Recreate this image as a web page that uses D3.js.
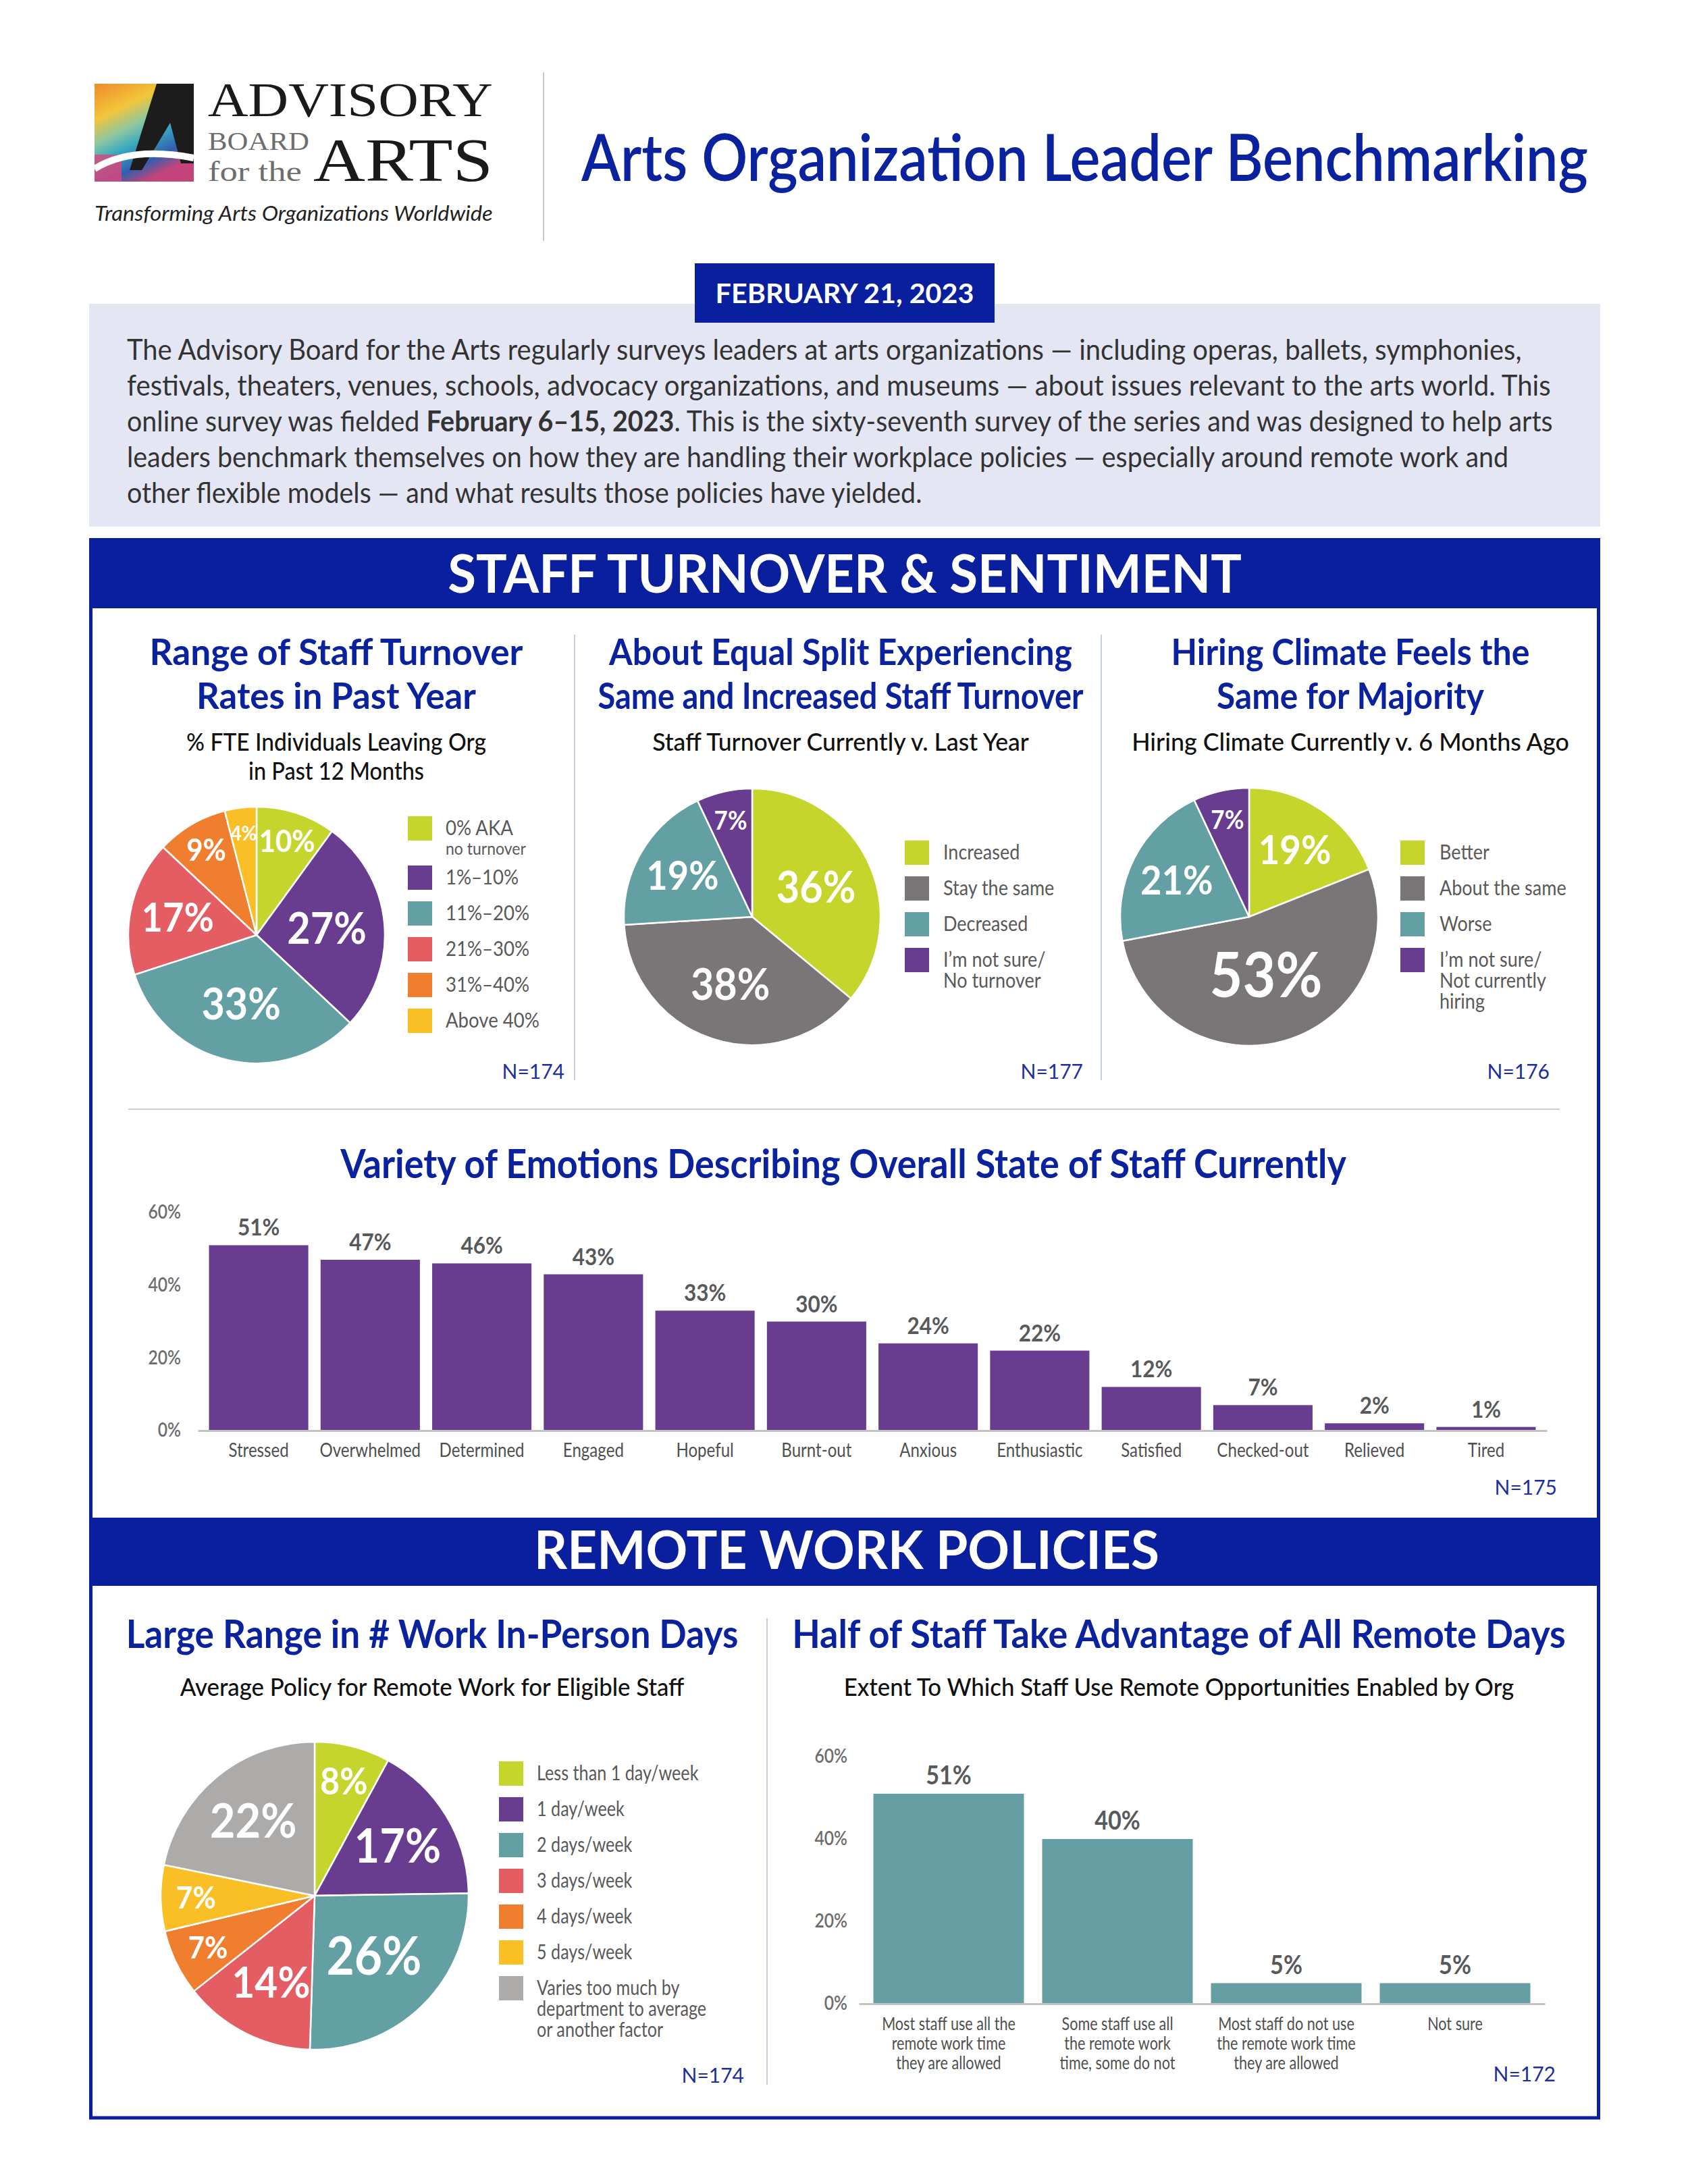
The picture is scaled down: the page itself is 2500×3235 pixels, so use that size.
<!DOCTYPE html>
<html>
<head>
<meta charset="utf-8">
<script src="https://cdn.jsdelivr.net/npm/d3@7"></script>
<style>
    body { margin: 0; background: #fff; }
    svg { display: block; font-family: Lato, "Open Sans", sans-serif; }
</style>
</head>
<body>
<svg id="chart" width="2500" height="3235"></svg>
<script>
// ---- data ----
const turnoverRanges = ["0% AKA\nno turnover", "1%–10%", "11%–20%", "21%–30%", "31%–40%", "Above 40%"];
const turnoverShares = [10, 27, 33, 17, 9, 4];

const turnoverTrend = ["Increased", "Stay the same", "Decreased", "I’m not sure/\nNo turnover"];
const turnoverTrendShares = [36, 38, 19, 7];

const hiringClimate = ["Better", "About the same", "Worse", "I’m not sure/\nNot currently\nhiring"];
const hiringClimateShares = [19, 53, 21, 7];

const emotions = ["Stressed", "Overwhelmed", "Determined", "Engaged", "Hopeful", "Burnt-out",
                  "Anxious", "Enthusiastic", "Satisfied", "Checked-out", "Relieved", "Tired"];
const emotionShares = [51, 47, 46, 43, 33, 30, 24, 22, 12, 7, 2, 1];

const remotePolicies = ["Less than 1 day/week", "1 day/week", "2 days/week", "3 days/week",
                        "4 days/week", "5 days/week", "Varies too much by\ndepartment to average\nor another factor"];
const remotePolicyShares = [8, 17, 26, 14, 7, 7, 22];

const remoteUsage = ["Most staff use all the\nremote work time\nthey are allowed",
                     "Some staff use all\nthe remote work\ntime, some do not",
                     "Most staff do not use\nthe remote work time\nthey are allowed",
                     "Not sure"];
const remoteUsageShares = [51, 40, 5, 5];

const percentTicks = [0, 20, 40, 60];

const introLines = [
    "The Advisory Board for the Arts regularly surveys leaders at arts organizations — including  operas, ballets, symphonies,",
    "festivals, theaters, venues, schools, advocacy organizations, and museums — about issues relevant to the arts world. This",
    ["online survey was fielded ", "February 6–15, 2023", ". This is the sixty-seventh survey of the series and was designed to help arts"],
    "leaders benchmark themselves on how they are handling their workplace policies — especially around remote work and",
    "other flexible models — and what results those policies have yielded."
];

// ---- styles ----
const BLUE = "#0a1f9e";
const TITLE_BLUE = "#0b229f";
const GREY_TXT = "#595959";
const LIME = "#c6d52c", PURPLE = "#683c8f", TEAL = "#63a0a4", RED = "#e35d63",
      ORANGE = "#ef7e2e", YELLOW = "#fbbf26", GRAY = "#7a7677", LIGHTGRAY = "#adaaaa";

const svg = d3.select("#chart");
svg.append("rect").attr("width", 2500).attr("height", 3235).attr("fill", "#fff");

// Scale a text node horizontally around its anchor point
function scaleX(node, k) {
    const t = d3.select(node);
    const x = +t.attr("x") || 0, y = +t.attr("y") || 0;
    t.attr("x", 0).attr("y", 0).attr("transform", `translate(${x},${y}) scale(${k},1)`);
}

// Squeeze text to a fixed width
function fit(sel, width) {
    sel.each(function () {
        const w = this.getComputedTextLength();
        if (w > 0) scaleX(this, width / w);
    });
    return sel;
}

// Squeeze text by a factor of its natural width
function squeeze(sel, k) {
    sel.each(function () { scaleX(this, k); });
    return sel;
}

// Plain text helper
function label(g, x, y, str, o) {
    const t = g.append("text")
        .attr("x", x).attr("y", y)
        .attr("font-size", o.size)
        .attr("font-weight", o.weight || 400)
        .attr("fill", o.fill || "#222")
        .attr("text-anchor", o.anchor || "start")
        .text(str);
    if (o.family) t.attr("font-family", o.family);
    if (o.italic) t.attr("font-style", "italic");
    if (o.width) fit(t, o.width);
    else if (o.k) squeeze(t, o.k);
    return t;
}

// Logo block
function drawLogo(g) {
    const defs = svg.append("defs");
    const grad = defs.append("linearGradient").attr("id", "paint")
        .attr("x1", 0).attr("y1", 0).attr("x2", 0.5).attr("y2", 1);
    [["0", "#f08a2c"], ["0.3", "#f3c53a"], ["0.5", "#8cc7a0"], ["0.65", "#3aa9c0"], ["0.85", "#2f5fae"], ["1", "#c2447a"]]
        .forEach(s => grad.append("stop").attr("offset", s[0]).attr("stop-color", s[1]));

    const L = g.append("g").attr("transform", "translate(140,124)");
    L.append("rect").attr("width", 147).attr("height", 145).attr("fill", "url(#paint)");
    L.append("rect").attr("x", 0).attr("y", 105).attr("width", 40).attr("height", 40).attr("fill", "#e0457b").attr("opacity", 0.8);
    L.append("polygon")
        .attr("points", "92,0 147,0 147,118 128,118 112,58 70,128 52,128")
        .attr("fill", "#1c1c1c");
    L.append("path").attr("d", "M0,126 Q55,92 147,110")
        .attr("stroke", "#fff").attr("stroke-width", 10).attr("fill", "none");

    label(g, 308, 172, "ADVISORY", {size: 72, family: "Liberation Serif", fill: "#1a1a1a", width: 422});
    label(g, 308, 222, "BOARD", {size: 38, family: "Liberation Serif", fill: "#6e6e6e", width: 150});
    label(g, 308, 268, "for the", {size: 42, family: "Liberation Serif", fill: "#6e6e6e", width: 139});
    label(g, 464, 268, "ARTS", {size: 90, family: "Liberation Serif", fill: "#1a1a1a", width: 266});
    label(g, 140, 327, "Transforming Arts Organizations Worldwide", {size: 30, italic: true, fill: "#222", width: 590});
}

// Pie with labels, legend and N
function drawPie(o) {
    const g = svg.append("g");
    const data = o.values.map((v, i) => ({v: v, name: o.names[i], color: o.colors[i]}));
    const arcs = d3.pie().sort(null).value(d => d.v)(data);
    const arc = d3.arc().innerRadius(0).outerRadius(o.r);

    const pg = g.append("g").attr("transform", `translate(${o.cx},${o.cy})`);
    pg.selectAll("path")
      .data(arcs)
      .join("path")
      .attr("d", arc)
      .attr("fill", d => d.data.color)
      .attr("stroke", "#fff")
      .attr("stroke-width", 2.5);

    arcs.forEach(a => {
        const v = a.data.v;
        const lr = o.r * (v >= 40 ? 0.47 : v >= 25 ? 0.55 : v >= 12 ? 0.63 : v >= 6 ? 0.77 : 0.8);
        const fs = o.r * (v >= 50 ? 0.48 : v >= 25 ? 0.34 : v >= 17 ? 0.31 : v >= 12 ? 0.28 : v >= 8 ? 0.24 : v >= 5 ? 0.2 : 0.16);
        const c = d3.arc().innerRadius(lr).outerRadius(lr).centroid(a);
        squeeze(pg.append("text")
            .attr("x", c[0]).attr("y", c[1]).attr("dy", "0.36em")
            .attr("text-anchor", "middle")
            .attr("font-size", fs).attr("font-weight", 700)
            .attr("fill", "#fff")
            .text(v + "%"), 0.92);
    });

    // legend
    let cy = o.legend.y;
    data.forEach(d => {
        const lines = d.name.split("\n");
        g.append("rect").attr("x", o.legend.x).attr("y", cy - 18)
            .attr("width", 36).attr("height", 36).attr("fill", d.color);
        lines.forEach((ln, j) => {
            const small = o.legend.smallSecond && j > 0;
            squeeze(g.append("text")
                .attr("x", o.legend.textX).attr("y", cy + 10 + j * (small ? 29 : 31))
                .attr("font-size", small ? 25 : o.legend.fs)
                .attr("fill", GREY_TXT)
                .text(ln), o.legend.k);
        });
        cy += o.legend.step + (lines.length - 1) * 20;
    });

    label(g, o.n[0], o.n[1], o.n[2], {size: 30, fill: "#1d2fa0", anchor: "end"});
}

// Vertical bar chart with value labels
function drawBars(o) {
    const g = svg.append("g");
    const x = d3.scaleBand().domain(o.names).range(o.xRange)
        .paddingInner(o.pi).paddingOuter(o.po);
    const y = d3.scaleLinear().domain([0, 60]).range(o.yRange);

    g.selectAll("rect.bar")
     .data(o.values)
     .join("rect")
     .attr("class", "bar")
     .attr("x", (d, i) => x(o.names[i]))
     .attr("y", d => y(d))
     .attr("width", x.bandwidth())
     .attr("height", d => y(0) - y(d))
     .attr("fill", o.color);

    // y axis
    const ya = g.append("g")
        .attr("transform", `translate(${o.tickX},0)`)
        .call(d3.axisLeft(y).tickValues(percentTicks).tickFormat(d => d + "%").tickSize(0).tickPadding(0))
        .attr("font-family", null);
    ya.select(".domain").remove();
    ya.selectAll("text")
      .attr("font-size", o.tickSize)
      .attr("font-weight", 600)
      .attr("fill", "#6d6d6d");
    squeeze(ya.selectAll("text"), 0.88);

    // x axis
    const xa = g.append("g")
        .attr("transform", `translate(0,${y(0)})`)
        .call(d3.axisBottom(x).tickSize(0).tickSizeOuter(0).tickFormat(""))
        .attr("font-family", null);
    xa.select(".domain").attr("stroke", "#c3c3c3").attr("stroke-width", 3);
    xa.selectAll(".tick").each(function (d) {
        const t = d3.select(this);
        d.split("\n").forEach((ln, j) => {
            squeeze(t.append("text")
                .attr("y", 39 + j * o.lineH)
                .attr("text-anchor", "middle")
                .attr("font-size", o.labelSize)
                .attr("fill", "#4f4f4f")
                .text(ln), o.labelK);
        });
    });

    // value labels
    g.selectAll("text.val")
     .data(o.values)
     .join("text")
     .attr("class", "val")
     .attr("x", (d, i) => x(o.names[i]) + x.bandwidth() / 2)
     .attr("y", d => y(d) - 14)
     .attr("text-anchor", "middle")
     .attr("font-size", o.valSize)
     .attr("font-weight", 700)
     .attr("fill", "#58595b")
     .text(d => d + "%");
    squeeze(g.selectAll("text.val"), 0.9);

    label(g, o.n[0], o.n[1], o.n[2], {size: 30, fill: "#1d2fa0", anchor: "end"});
}

// Panel title and subtitle lines
function drawTitles(cx, titles, tWidths, tY, tSize, subs, sWidths, sY) {
    titles.forEach((t, i) => label(svg, cx, tY[i], t, {size: tSize, weight: 700, fill: TITLE_BLUE, anchor: "middle", width: tWidths[i]}));
    subs.forEach((s, i) => label(svg, cx, sY[i], s, {size: 36, weight: 500, fill: "#111", anchor: "middle", width: sWidths[i]}));
}

// ---- header ----
drawLogo(svg);
svg.append("line").attr("x1", 805).attr("x2", 805).attr("y1", 107).attr("y2", 357)
   .attr("stroke", "#c8c8c8").attr("stroke-width", 2);
label(svg, 861, 268, "Arts Organization Leader Benchmarking", {size: 96, weight: 600, fill: TITLE_BLUE, width: 1491});

// intro panel
svg.append("rect").attr("x", 132).attr("y", 450).attr("width", 2238).attr("height", 330).attr("fill", "#e4e6f3");
svg.append("rect").attr("x", 1029).attr("y", 390).attr("width", 444).attr("height", 88).attr("fill", BLUE);
label(svg, 1251, 449, "FEBRUARY 21, 2023", {size: 40, weight: 700, fill: "#fff", anchor: "middle", width: 383});

const introWidths = [2066, 2109, 2112, 2047, 1178];
introLines.forEach((ln, i) => {
    const t = svg.append("text").attr("x", 188).attr("y", 533 + i * 53)
        .attr("font-size", 42).attr("fill", "#333");
    if (Array.isArray(ln)) {
        ln.forEach((part, j) => t.append("tspan").attr("font-weight", j === 1 ? 700 : 400).text(part));
    } else {
        t.text(ln);
    }
    fit(t, introWidths[i]);
});

// ---- frame & section bars ----
svg.append("rect").attr("x", 134.5).attr("y", 800).attr("width", 2233).attr("height", 2337)
   .attr("fill", "none").attr("stroke", BLUE).attr("stroke-width", 5);
svg.append("rect").attr("x", 132).attr("y", 797).attr("width", 2238).attr("height", 104).attr("fill", BLUE);
svg.append("rect").attr("x", 132).attr("y", 2248).attr("width", 2238).attr("height", 101).attr("fill", BLUE);
label(svg, 1251, 878, "STAFF TURNOVER & SENTIMENT", {size: 78, weight: 700, fill: "#fff", anchor: "middle", width: 1176});
label(svg, 1254, 2324, "REMOTE WORK POLICIES", {size: 78, weight: 700, fill: "#fff", anchor: "middle", width: 926});

// dividers
[851, 1631].forEach(x => svg.append("line").attr("x1", x).attr("x2", x).attr("y1", 940).attr("y2", 1600)
    .attr("stroke", "#c5cde0").attr("stroke-width", 2));
svg.append("line").attr("x1", 190).attr("x2", 2310).attr("y1", 1643).attr("y2", 1643)
   .attr("stroke", "#c5cde0").attr("stroke-width", 2);
svg.append("line").attr("x1", 1136).attr("x2", 1136).attr("y1", 2397).attr("y2", 3088)
   .attr("stroke", "#c5cde0").attr("stroke-width", 2);

// ---- staff turnover pies ----
drawTitles(498, ["Range of Staff Turnover", "Rates in Past Year"], [553, 414], [985, 1050], 54,
           ["% FTE Individuals Leaving Org", "in Past 12 Months"], [444, 260], [1112, 1155]);
drawPie({
    values: turnoverShares, names: turnoverRanges,
    colors: [LIME, PURPLE, TEAL, RED, ORANGE, YELLOW],
    cx: 380, cy: 1385, r: 190,
    legend: {x: 604, y: 1227, textX: 660, step: 53, fs: 30, k: 0.92, smallSecond: true},
    n: [836, 1598, "N=174"]
});

drawTitles(1245, ["About Equal Split Experiencing", "Same and Increased Staff Turnover"], [686, 719], [985, 1050], 54,
           ["Staff Turnover Currently v. Last Year"], [558], [1112]);
drawPie({
    values: turnoverTrendShares, names: turnoverTrend,
    colors: [LIME, GRAY, TEAL, PURPLE],
    cx: 1114, cy: 1358, r: 190,
    legend: {x: 1340, y: 1263, textX: 1397, step: 53, fs: 30, k: 0.9},
    n: [1604, 1598, "N=177"]
});

drawTitles(2000, ["Hiring Climate Feels the", "Same for Majority"], [531, 396], [985, 1050], 54,
           ["Hiring Climate Currently v. 6 Months Ago"], [648], [1112]);
drawPie({
    values: hiringClimateShares, names: hiringClimate,
    colors: [LIME, GRAY, TEAL, PURPLE],
    cx: 1850, cy: 1358, r: 191,
    legend: {x: 2074, y: 1263, textX: 2132, step: 53, fs: 30, k: 0.9},
    n: [2295, 1598, "N=176"]
});

// ---- emotions bars ----
label(svg, 1249, 1745, "Variety of Emotions Describing Overall State of Staff Currently",
      {size: 60, weight: 700, fill: TITLE_BLUE, anchor: "middle", width: 1490});
drawBars({
    names: emotions, values: emotionShares, color: PURPLE,
    xRange: [293, 2291], pi: 0.11, po: 0.1,
    yRange: [2119, 1796], tickX: 268, tickSize: 28,
    labelSize: 28, labelK: 0.86, lineH: 29, valSize: 35,
    n: [2306, 2214, "N=175"]
});

// ---- remote work ----
drawTitles(640, ["Large Range in # Work In-Person Days"], [907], [2441], 58,
           ["Average Policy for Remote Work for Eligible Staff"], [747], [2512]);
drawPie({
    values: remotePolicyShares, names: remotePolicies,
    colors: [LIME, PURPLE, TEAL, RED, ORANGE, YELLOW, LIGHTGRAY],
    cx: 466, cy: 2808, r: 228,
    legend: {x: 739, y: 2627, textX: 795, step: 53, fs: 30, k: 0.84},
    n: [1102, 3085, "N=174"]
});

drawTitles(1746, ["Half of Staff Take Advantage of All Remote Days"], [1146], [2441], 58,
           ["Extent To Which Staff Use Remote Opportunities Enabled by Org"], [993], [2512]);
drawBars({
    names: remoteUsage, values: remoteUsageShares, color: "#659fa3",
    xRange: [1272, 2288], pi: 0.108, po: 0.086,
    yRange: [2968, 2602], tickX: 1255, tickSize: 28,
    labelSize: 27, labelK: 0.8, lineH: 29, valSize: 38,
    n: [2304, 3083, "N=172"]
});
</script>
</body>
</html>
